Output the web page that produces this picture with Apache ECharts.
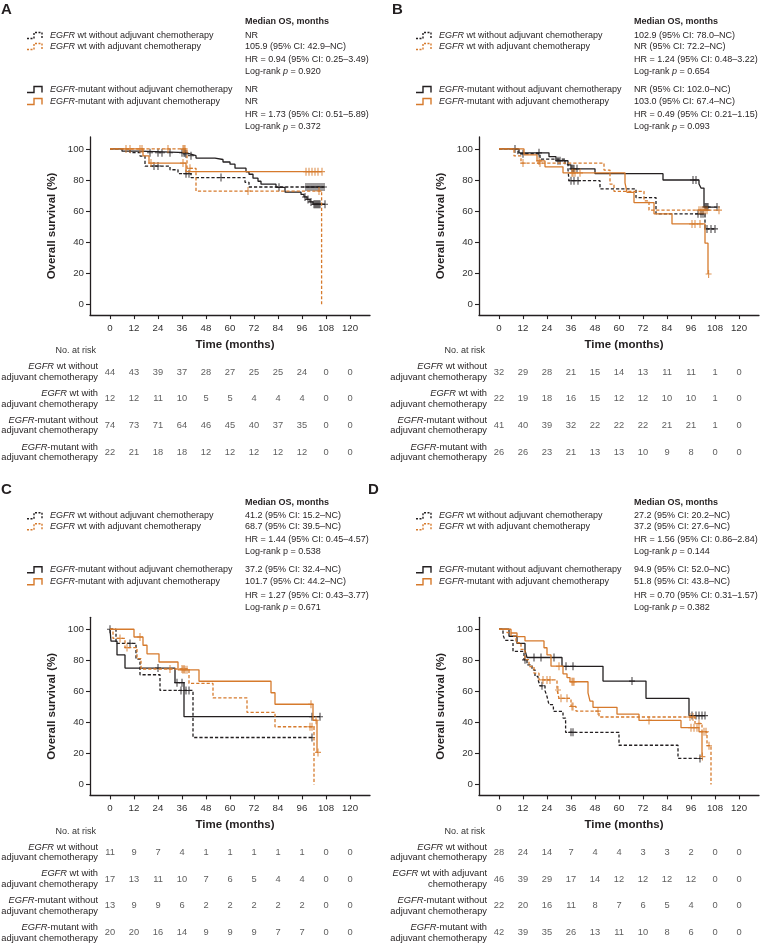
<!DOCTYPE html>
<html><head><meta charset="utf-8">
<script src="https://cdn.jsdelivr.net/npm/echarts@6/dist/echarts.min.js"></script>
<style>html,body{margin:0;padding:0;background:#fff}#c{width:760px;height:944px}</style>
</head><body><div id="c"></div><script>
// ---------- shared axis values ----------
const months = [0, 12, 24, 36, 48, 60, 72, 84, 96, 108, 120];
const survTicks = [0, 20, 40, 60, 80, 100];

// ---------- Panel A ----------
const A_wtNo_t = [0, 10, 15, 17.5, 30, 34, 40.5, 67.5, 69.5];
const A_wtNo_s = [100, 97.7, 95.4, 89, 86.6, 84.1, 81.6, 78.5, 75.5];
const A_wtNo_c = [22, 24, 38, 39.5, 55.5, 98, 99, 100, 101, 102, 103, 104, 105, 106, 107];
const A_mutNo_t = [0, 6, 15, 38, 40, 43, 52.5, 56.5, 60, 62.5, 68, 69.5, 71.5, 74, 75.5, 83, 87.5, 95.5, 97, 98.5, 100, 101.5];
const A_mutNo_s = [100, 98.6, 97.6, 96.8, 95.7, 94.1, 93.2, 91.6, 90.2, 87.6, 85.3, 83.7, 81.2, 79.2, 77.3, 75.3, 72.2, 70.7, 69.1, 67.5, 65.9, 64.4];
const A_mutNo_c = [20, 24, 26, 30, 36, 37, 37.5, 38, 40.5, 84.5, 97.5, 99, 100.5, 102, 102.5, 103, 103.5, 104, 104.5, 105, 107.5];
const A_wtYes_t = [0, 38.5, 43, 105.8];
const A_wtYes_s = [100, 87.5, 72.9, 0];
const A_wtYes_c = [10, 15, 29, 36.5, 37, 37.5, 40, 69, 104.5];
const A_mutYes_t = [0, 16.5, 19.5, 38];
const A_mutYes_s = [100, 95.5, 90.9, 85.4];
const A_mutYes_c = [8, 16, 20.5, 36.5, 98, 99.5, 101, 102.5, 104, 106];
const A_median = ['NR', '105.9 (95% CI: 42.9–NC)', 'NR', 'NR'];
const A_hr = ['HR = 0.94 (95% CI: 0.25–3.49)', 'HR = 1.73 (95% CI: 0.51–5.89)'];
const A_p = ['0.920', '0.372'];
const A_risk = [
  [44, 43, 39, 37, 28, 27, 25, 25, 24, 0, 0],
  [12, 12, 11, 10, 5, 5, 4, 4, 4, 0, 0],
  [74, 73, 71, 64, 46, 45, 40, 37, 35, 0, 0],
  [22, 21, 18, 18, 12, 12, 12, 12, 12, 0, 0]
];

// ---------- Panel B ----------
const B_wtNo_t = [0, 9.5, 20.5, 33, 34.5, 35, 50.5, 68.5, 78.5, 103];
const B_wtNo_s = [100, 96.9, 93.5, 90.1, 86.6, 79.6, 74.3, 68.7, 58.2, 48.5];
const B_wtNo_c = [12, 36, 37.5, 39.5, 99.5, 101, 102, 104, 106, 108];
const B_mutNo_t = [0, 10, 25, 28.5, 34.5, 36, 48, 82, 100, 101, 102.5];
const B_mutNo_s = [100, 97.5, 95, 92.4, 89.8, 87.2, 84.1, 80, 77.4, 74.8, 62.6];
const B_mutNo_c = [8, 20, 29.5, 30.5, 36.5, 37, 37.5, 39, 97, 98.5, 103, 103.5, 104, 104.5, 109];
const B_wtYes_t = [0, 7.5, 11, 52.5, 55.5, 57.5, 72.5, 75];
const B_wtYes_s = [100, 95.5, 90.9, 86.4, 77.3, 72.7, 66.6, 60.6];
const B_wtYes_c = [12, 20.5, 100, 101, 102, 103, 104, 110];
const B_mutYes_t = [0, 12.5, 19, 23, 32, 63, 64, 67.5, 77.5, 86.5, 103, 104.5];
const B_mutYes_s = [100, 96.2, 92.3, 88.5, 84.6, 78.2, 72.1, 65.5, 58.2, 51.7, 39.3, 19.5];
const B_mutYes_c = [20, 36.5, 37, 38, 40.5, 96.5, 98, 100.5, 104.8];
const B_median = ['102.9 (95% CI: 78.0–NC)', 'NR (95% CI: 72.2–NC)', 'NR (95% CI: 102.0–NC)', '103.0 (95% CI: 67.4–NC)'];
const B_hr = ['HR = 1.24 (95% CI: 0.48–3.22)', 'HR = 0.49 (95% CI: 0.21–1.15)'];
const B_p = ['0.654', '0.093'];
const B_risk = [
  [32, 29, 28, 21, 15, 14, 13, 11, 11, 1, 0],
  [22, 19, 18, 16, 15, 12, 12, 10, 10, 1, 0],
  [41, 40, 39, 32, 22, 22, 22, 21, 21, 1, 0],
  [26, 26, 23, 21, 13, 13, 10, 9, 8, 0, 0]
];

// ---------- Panel C ----------
const C_wtNo_t = [0, 3, 13, 15, 25, 41.5];
const C_wtNo_s = [100, 90.9, 80.8, 70.7, 60.6, 30.3];
const C_wtNo_c = [10, 35.5, 38, 39.5, 101];
const C_mutNo_t = [0, 0.5, 3.5, 7.5, 32.5, 37];
const C_mutNo_s = [100, 92.3, 83.5, 75, 65.6, 43.7];
const C_mutNo_c = [0, 24, 33.5, 36, 101, 105];
const C_wtYes_t = [0, 1.5, 7.5, 13.5, 15.5, 39.5, 51.5, 68.5, 82.5, 102];
const C_wtYes_s = [100, 94.1, 88.2, 81.1, 74.4, 65.1, 55.8, 46.5, 37.2, 0];
const C_wtYes_c = [5, 8.5, 30, 36, 37, 100, 101];
const C_mutYes_t = [0, 12, 16.5, 18.5, 24.5, 34, 44.5, 80.5, 82.5, 101.5, 103.5];
const C_mutYes_s = [100, 95, 89.7, 84.2, 78.9, 73.9, 66.5, 59.1, 51.7, 41.4, 20.7];
const C_mutYes_c = [15, 36.5, 37.5, 38.5, 100.5, 103, 104];
const C_median = ['41.2 (95% CI: 15.2–NC)', '68.7 (95% CI: 39.5–NC)', '37.2 (95% CI: 32.4–NC)', '101.7 (95% CI: 44.2–NC)'];
const C_hr = ['HR = 1.44 (95% CI: 0.45–4.57)', 'HR = 1.27 (95% CI: 0.43–3.77)'];
const C_p = ['0.538', '0.671'];
const C_risk = [
  [11, 9, 7, 4, 1, 1, 1, 1, 1, 0, 0],
  [17, 13, 11, 10, 7, 6, 5, 4, 4, 0, 0],
  [13, 9, 9, 6, 2, 2, 2, 2, 2, 0, 0],
  [20, 20, 16, 14, 9, 9, 9, 7, 7, 0, 0]
];

// ---------- Panel D ----------
const D_wtNo_t = [0, 2, 3, 7, 12.5, 14, 16.5, 18, 19.5, 20.5, 23, 24, 25, 27.2, 32, 33.3, 60, 89.5];
const D_wtNo_s = [100, 96.4, 92.9, 85.7, 80.3, 77, 73.9, 69.6, 67.5, 63.6, 60.5, 56.7, 51.4, 47.1, 42.8, 33.6, 25.3, 16.8];
const D_wtNo_c = [13, 21.5, 36, 37, 100.5];
const D_mutNo_t = [0, 5, 9, 13, 14, 31.5, 52, 73.5, 95];
const D_mutNo_s = [100, 95.5, 90.9, 86.4, 81.8, 76.1, 66.6, 55.5, 44.4];
const D_mutNo_c = [17.5, 21, 27.5, 33.5, 37, 66.5, 96.5, 98.5, 100, 101.5, 103];
const D_wtYes_t = [0, 4, 6, 8.5, 11, 13, 15, 17.5, 20, 29, 30, 36, 38.5, 50, 98, 101.5, 104, 106];
const D_wtYes_s = [100, 97.8, 95.6, 91.3, 87, 80.4, 76, 71.7, 67.4, 60.9, 55.5, 50.3, 47.3, 43.5, 39.3, 34, 25, 0];
const D_wtYes_c = [22, 24, 25.5, 29.5, 31, 34, 36.5, 37, 49.5, 95.5, 97, 100, 102.5, 103.5, 105];
const D_mutYes_t = [0, 6, 9, 13, 22.5, 24, 26, 32, 34, 35.5, 44.5, 45.5, 47, 59, 70, 91, 100, 101.5];
const D_mutYes_s = [100, 97.6, 95.2, 92.5, 88.1, 83.5, 76.2, 71.3, 68.9, 66.2, 59, 53.7, 49.7, 45.3, 41.3, 36.6, 34, 18];
const D_mutYes_c = [30, 36.5, 37, 37.5, 75, 96, 97.5, 99, 101.7];
const D_median = ['27.2 (95% CI: 20.2–NC)', '37.2 (95% CI: 27.6–NC)', '94.9 (95% CI: 52.0–NC)', '51.8 (95% CI: 43.8–NC)'];
const D_hr = ['HR = 1.56 (95% CI: 0.86–2.84)', 'HR = 0.70 (95% CI: 0.31–1.57)'];
const D_p = ['0.144', '0.382'];
const D_risk = [
  [28, 24, 14, 7, 4, 4, 3, 3, 2, 0, 0],
  [46, 39, 29, 17, 14, 12, 12, 12, 12, 0, 0],
  [22, 20, 16, 11, 8, 7, 6, 5, 4, 0, 0],
  [42, 39, 35, 26, 13, 11, 10, 8, 6, 0, 0]
];

// ---------- text labels ----------
const legendLabels = [
  '{i|EGFR} wt without adjuvant chemotherapy',
  '{i|EGFR} wt with adjuvant chemotherapy',
  '{i|EGFR}-mutant without adjuvant chemotherapy',
  '{i|EGFR}-mutant with adjuvant chemotherapy'
];
const rowLabelsStd = [
  '{i|EGFR}{n| wt without}\n{n|adjuvant chemotherapy}',
  '{i|EGFR}{n| wt with}\n{n|adjuvant chemotherapy}',
  '{i|EGFR}{n|-mutant without}\n{n|adjuvant chemotherapy}',
  '{i|EGFR}{n|-mutant with}\n{n|adjuvant chemotherapy}'
];
const rowLabelsD = [
  '{i|EGFR}{n| wt without}\n{n|adjuvant chemotherapy}',
  '{i|EGFR}{n| wt with adjuvant}\n{n|chemotherapy}',
  '{i|EGFR}{n|-mutant without}\n{n|adjuvant chemotherapy}',
  '{i|EGFR}{n|-mutant with}\n{n|adjuvant chemotherapy}'
];

// ---------- styling ----------
const FONT = '"Liberation Sans", Arial, Helvetica, sans-serif';
const BLACK = '#231f20', ORANGE = '#d67a2c', GREY = '#333333';
const CROSS = 'path://M2.45,0H3.55V3.45H6V4.55H3.55V8H2.45V4.55H0V3.45H2.45Z';
const curveStyles = [
  { color: BLACK, dash: true },   // EGFR wt without
  { color: BLACK, dash: false },  // EGFR-mutant without
  { color: ORANGE, dash: true },  // EGFR wt with
  { color: ORANGE, dash: false }  // EGFR-mutant with
];
const legendOrder = [0, 2, 1, 3];

const panels = [
  { letter: 'A', dx: 0, dy: 0, lx: 1,
    curves: [[A_wtNo_t, A_wtNo_s, A_wtNo_c], [A_mutNo_t, A_mutNo_s, A_mutNo_c], [A_wtYes_t, A_wtYes_s, A_wtYes_c], [A_mutYes_t, A_mutYes_s, A_mutYes_c]],
    median: A_median, hr: A_hr, p: A_p, pItalic: [true, true], risk: A_risk, rows: rowLabelsStd },
  { letter: 'B', dx: 389, dy: 0, lx: 392,
    curves: [[B_wtNo_t, B_wtNo_s, B_wtNo_c], [B_mutNo_t, B_mutNo_s, B_mutNo_c], [B_wtYes_t, B_wtYes_s, B_wtYes_c], [B_mutYes_t, B_mutYes_s, B_mutYes_c]],
    median: B_median, hr: B_hr, p: B_p, pItalic: [true, true], risk: B_risk, rows: rowLabelsStd },
  { letter: 'C', dx: 0, dy: 480.3, lx: 1,
    curves: [[C_wtNo_t, C_wtNo_s, C_wtNo_c], [C_mutNo_t, C_mutNo_s, C_mutNo_c], [C_wtYes_t, C_wtYes_s, C_wtYes_c], [C_mutYes_t, C_mutYes_s, C_mutYes_c]],
    median: C_median, hr: C_hr, p: C_p, pItalic: [false, true], risk: C_risk, rows: rowLabelsStd },
  { letter: 'D', dx: 389, dy: 480.3, lx: 368,
    curves: [[D_wtNo_t, D_wtNo_s, D_wtNo_c], [D_mutNo_t, D_mutNo_s, D_mutNo_c], [D_wtYes_t, D_wtYes_s, D_wtYes_c], [D_mutYes_t, D_mutYes_s, D_mutYes_c]],
    median: D_median, hr: D_hr, p: D_p, pItalic: [true, true], risk: D_risk, rows: rowLabelsD }
];

function fnt(size, weight, style) {
  return (style || 'normal') + ' ' + (weight || 'normal') + ' ' + size + 'px ' + FONT;
}
function T(x, y, text, o) {
  o = o || {};
  const size = o.size || 9, col = o.color || BLACK, al = o.align || 'left';
  return {
    type: 'text', x: x, y: y, rotation: o.rot || 0, silent: true, z: 10,
    style: {
      text: text, x: 0, y: 0, font: fnt(size, o.weight), fill: col,
      align: al, verticalAlign: 'middle', textAlign: al, textVerticalAlign: 'middle',
      rich: {
        i: { font: fnt(size, o.weight, 'italic'), fill: col },
        n: { font: fnt(size, o.weight), fill: col }
      }
    }
  };
}
function survAt(t, s, x) {
  let v = s[0];
  for (let i = 0; i < t.length; i++) if (t[i] <= x) v = s[i];
  return v;
}

const grids = [], xAxes = [], yAxes = [], series = [], graphics = [];

panels.forEach(function (P) {
  const dx = P.dx, dy = P.dy;
  // main KM grid
  const gi = grids.length;
  grids.push({ left: 90 + dx, top: 137 + dy, width: 280, height: 178.1, outerBoundsMode: 'none' });
  xAxes.push({
    gridIndex: gi, type: 'value', min: -10, max: 130,
    axisLine: { show: true, onZero: false, lineStyle: { color: BLACK, width: 1.3 } },
    axisTick: { show: true, length: 4, customValues: months, lineStyle: { color: BLACK, width: 1.1 } },
    axisLabel: { customValues: months, fontSize: 9.7, fontFamily: FONT, color: GREY, margin: 8 },
    splitLine: { show: false }
  });
  yAxes.push({
    gridIndex: gi, type: 'value', min: -7, max: 107.7,
    axisLine: { show: true, onZero: false, lineStyle: { color: BLACK, width: 1.3 } },
    axisTick: { show: true, length: 4, customValues: survTicks, lineStyle: { color: BLACK, width: 1.1 } },
    axisLabel: { customValues: survTicks, fontSize: 9.7, fontFamily: FONT, color: GREY, margin: 6 },
    splitLine: { show: false }
  });
  P.curves.forEach(function (c, k) {
    const t = c[0], s = c[1], cens = c[2];
    const end = Math.max(t[t.length - 1], cens.length ? cens[cens.length - 1] : 0);
    const data = t.map(function (x, i) { return [x, s[i]]; });
    data.push([end, s[s.length - 1]]);
    const st = curveStyles[k];
    series.push({
      type: 'line', xAxisIndex: gi, yAxisIndex: gi, data: data, step: 'end',
      showSymbol: false, symbol: 'none', silent: true, z: 3 + k,
      lineStyle: { color: st.color, width: 1.3, type: st.dash ? [3.2, 2] : 'solid' }
    });
    series.push({
      type: 'scatter', xAxisIndex: gi, yAxisIndex: gi, silent: true, z: 3 + k,
      data: cens.map(function (x) { return [x, survAt(t, s, x)]; }),
      symbol: CROSS, symbolSize: [6, 8], itemStyle: { color: st.color }
    });
  });

  // risk table grid
  const ri = grids.length;
  grids.push({ left: 100 + dx, top: 358.6 + dy, width: 270, height: 107.2, outerBoundsMode: 'none' });
  xAxes.push({ gridIndex: ri, type: 'value', min: -5, max: 130, show: false });
  const richSt = { fontSize: 9.3, fontFamily: FONT, color: BLACK, lineHeight: 10.5, align: 'right' };
  yAxes.push({
    gridIndex: ri, type: 'category', data: P.rows, inverse: true,
    axisLine: { show: false }, axisTick: { show: false }, splitLine: { show: false },
    axisLabel: {
      interval: 0, margin: 2, fontSize: 9.3, fontFamily: FONT, color: BLACK, lineHeight: 10.5,
      rich: { i: Object.assign({ fontStyle: 'italic' }, richSt), n: Object.assign({}, richSt) }
    }
  });
  const rdata = [];
  P.risk.forEach(function (row, r) {
    row.forEach(function (v, k) { rdata.push([months[k], r, v]); });
  });
  series.push({
    type: 'scatter', xAxisIndex: ri, yAxisIndex: ri, silent: true, data: rdata,
    symbolSize: 1, itemStyle: { color: 'rgba(0,0,0,0)' },
    label: { show: true, position: 'inside', formatter: function (p) { return String(p.value[2]); },
      fontSize: 9.3, fontFamily: FONT, color: GREY }
  });

  // panel letter
  graphics.push(T(P.lx, 10 + dy, P.letter, { size: 15, weight: 'bold' }));
  // legend block
  graphics.push(T(245 + dx, 22 + dy, 'Median OS, months', { weight: 'bold' }));
  const rowY = [35.5, 46.5, 89.5, 101.5];
  legendOrder.forEach(function (ci, j) {
    const y = rowY[j] + dy, st = curveStyles[ci];
    graphics.push({
      type: 'polyline', silent: true, z: 10,
      shape: { points: [[27 + dx, y + 3], [34 + dx, y + 3], [34 + dx, y - 3], [42 + dx, y - 3], [42 + dx, y + 3]] },
      style: { stroke: st.color, lineWidth: 1.4, fill: null, lineDash: st.dash ? [2, 1.5] : null }
    });
    graphics.push(T(50 + dx, y, legendLabels[j]));
    graphics.push(T(245 + dx, y, P.median[j]));
  });
  [[59.5, 71.5], [115, 127]].forEach(function (ys, g) {
    graphics.push(T(245 + dx, ys[0] + dy, P.hr[g]));
    const lr = P.pItalic[g] ? '{n|Log-rank }{i|p}{n| = ' + P.p[g] + '}' : 'Log-rank p = ' + P.p[g];
    graphics.push(T(245 + dx, ys[1] + dy, lr));
  });
  // axis titles
  graphics.push(T(235 + dx, 345 + dy, 'Time (months)', { size: 11.5, weight: 'bold', align: 'center' }));
  graphics.push(T(52 + dx, 226 + dy, 'Overall survival (%)', { size: 11.5, weight: 'bold', align: 'center', rot: Math.PI / 2 }));
  graphics.push(T(96 + dx, 351 + dy, 'No. at risk', { size: 9, color: GREY, align: 'right' }));
});

const chart = echarts.init(document.getElementById('c'), null, { renderer: 'canvas' });
chart.setOption({
  animation: false,
  backgroundColor: '#ffffff',
  grid: grids, xAxis: xAxes, yAxis: yAxes, series: series,
  graphic: { elements: graphics }
});
</script></body></html>
